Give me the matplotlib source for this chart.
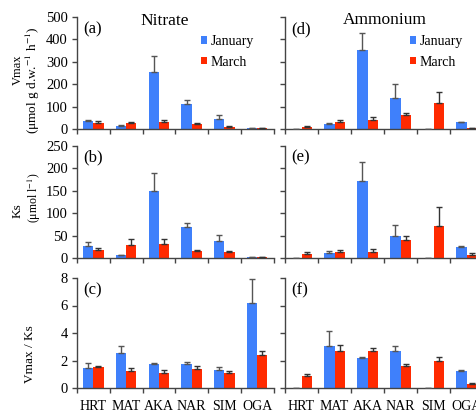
import matplotlib
matplotlib.use("Agg")
import matplotlib.pyplot as plt
from matplotlib.patches import Patch
import numpy as np

plt.rcParams['font.family'] = ['Liberation Serif', 'DejaVu Serif']
plt.rcParams['mathtext.fontset'] = 'stix'

cats = ["HRT", "MAT", "AKA", "NAR", "SIM", "OGA"]

nit_vmax_jan = [34, 12, 255, 111, 46, 4]
nit_vmax_jan_err = [7, 4, 72, 19, 16, 1]
nit_vmax_mar = [27, 27, 33, 22, 10, 3]
nit_vmax_mar_err = [8, 5, 8, 5, 3, 1]

amm_vmax_jan = [0, 22, 352, 138, 0, 30]
amm_vmax_jan_err = [0, 3, 78, 61, 0, 3]
amm_vmax_mar = [10, 33, 41, 62, 114, 4]
amm_vmax_mar_err = [5, 8, 11, 9, 50, 1]

nit_ks_jan = [27, 6, 149, 68, 38, 2]
nit_ks_jan_err = [9, 1, 40, 9, 13, 0.5]
nit_ks_mar = [18, 28, 32, 16, 13, 2]
nit_ks_mar_err = [5, 15, 11, 2, 2, 0.5]

amm_ks_jan = [0, 12, 172, 50, 0, 25]
amm_ks_jan_err = [0, 4, 41, 24, 0, 2]
amm_ks_mar = [9, 13, 14, 39, 71, 6]
amm_ks_mar_err = [5, 4, 6, 11, 42, 5]

nit_r_jan = [1.45, 2.52, 1.75, 1.75, 1.33, 6.15]
nit_r_jan_err = [0.34, 0.53, 0.04, 0.12, 0.2, 1.75]
nit_r_mar = [1.50, 1.21, 1.12, 1.41, 1.07, 2.40]
nit_r_mar_err = [0.10, 0.24, 0.16, 0.17, 0.14, 0.27]

amm_r_jan = [0, 3.06, 2.17, 2.72, 0, 1.25]
amm_r_jan_err = [0, 1.08, 0.12, 0.32, 0, 0.03]
amm_r_mar = [0.84, 2.70, 2.70, 1.57, 1.98, 0.27]
amm_r_mar_err = [0.15, 0.41, 0.22, 0.14, 0.31, 0.09]

BLUE = '#3f80fb'
RED = '#ff2a00'
W, H = 476, 412
fig = plt.figure(figsize=(W / 100, H / 100), dpi=100)

def px_axes(x0, x1, ytop, ybot):
    return fig.add_axes([x0 / W, 1 - ybot / H, (x1 - x0) / W, (ybot - ytop) / H])

rows = [(17, 129), (145.7, 258), (278, 388)]
cols = [(77, 273.5), (285, 483)]

panels = [
    [(nit_vmax_jan, nit_vmax_jan_err, nit_vmax_mar, nit_vmax_mar_err),
     (amm_vmax_jan, amm_vmax_jan_err, amm_vmax_mar, amm_vmax_mar_err)],
    [(nit_ks_jan, nit_ks_jan_err, nit_ks_mar, nit_ks_mar_err),
     (amm_ks_jan, amm_ks_jan_err, amm_ks_mar, amm_ks_mar_err)],
    [(nit_r_jan, nit_r_jan_err, nit_r_mar, nit_r_mar_err),
     (amm_r_jan, amm_r_jan_err, amm_r_mar, amm_r_mar_err)],
]
ylims = [(0, 500, 100), (0, 250, 50), (0, 8, 2)]
letters = [["(a)", "(d)"], ["(b)", "(e)"], ["(c)", "(f)"]]

x = np.arange(len(cats))
bw = 0.31
for r, (yt, yb) in enumerate(rows):
    for c, (x0, x1) in enumerate(cols):
        ax = px_axes(x0, x1, yt, yb)
        jan, janerr, mar, marerr = panels[r][c]
        ax.bar(x + 0.5 - bw / 2, jan, bw, color=BLUE, edgecolor='none', zorder=2)
        ax.bar(x + 0.5 + bw / 2, mar, bw, color=RED, edgecolor='none', zorder=2)
        ax.errorbar(x + 0.5 - bw / 2, jan, yerr=[np.zeros(len(jan)), janerr], fmt='none',
                    ecolor='#555555', elinewidth=1, capsize=2.3, capthick=1, zorder=3)
        ax.errorbar(x + 0.5 + bw / 2, mar, yerr=[np.zeros(len(mar)), marerr], fmt='none',
                    ecolor='#333333', elinewidth=1, capsize=2.3, capthick=1, zorder=3)
        lo, hi, step = ylims[r]
        ax.set_ylim(lo, hi)
        ax.set_xlim(0, 6)
        ax.set_yticks(np.arange(lo, hi + step / 2, step))
        ax.set_xticks(np.arange(0, 7))
        ax.set_xticklabels([])
        ax.set_xticks(x + 0.5, minor=True)
        if r == 2:
            ax.set_xticklabels(cats, minor=True, fontsize=10)
        else:
            ax.set_xticklabels([], minor=True)
        ax.tick_params(axis='x', which='minor', length=0, pad=9)
        ax.tick_params(axis='both', which='major', direction='out', length=3.5,
                       width=1, color='#444444', labelsize=10.5, pad=3)
        if c == 1:
            ax.set_yticklabels([])
        for s in ['top', 'right']:
            ax.spines[s].set_visible(False)
        for s in ['left', 'bottom']:
            ax.spines[s].set_color('#444444')
            ax.spines[s].set_linewidth(1)
        ax.text(6 / (x1 - x0), 1 - 12 / (yb - yt), letters[r][c], transform=ax.transAxes,
                fontsize=12, va='center', ha='left')
        if r == 0:
            handles = [Patch(facecolor=BLUE, edgecolor='none', label='January'),
                       Patch(facecolor=RED, edgecolor='none', label='March')]
            lx = 201 if c == 0 else 410
            ax.legend(handles=handles, loc='upper left',
                      bbox_to_anchor=(lx / W, 1 - 35 / H), bbox_transform=fig.transFigure,
                      frameon=False, fontsize=10, handlelength=0.45, handleheight=0.45,
                      handletextpad=0.25, labelspacing=0.55, borderpad=0, borderaxespad=0)

fig.text(165 / W, 1 - 21 / H, "Nitrate", fontsize=12.5, ha='center', va='center')
fig.text(385 / W, 1 - 20 / H, "Ammonium", fontsize=12.5, ha='center', va='center')

fig.text(18 / W, 1 - 70 / H, "Vmax", rotation=90, fontsize=9, ha='center', va='center')
fig.text(33 / W, 1 - 80 / H, "(μmol g d.w.$^{-1}$ h$^{-1}$)", rotation=90, fontsize=9.5,
         ha='center', va='center')
fig.text(18 / W, 1 - 211 / H, "Ks", rotation=90, fontsize=9.5, ha='center', va='center')
fig.text(34 / W, 1 - 198 / H, "(μmol l$^{-1}$)", rotation=90, fontsize=8.5,
         ha='center', va='center')
fig.text(30 / W, 1 - 354 / H, "Vmax / Ks", rotation=90, fontsize=9.5, ha='center', va='center')

fig.savefig("out.png", dpi=100)
